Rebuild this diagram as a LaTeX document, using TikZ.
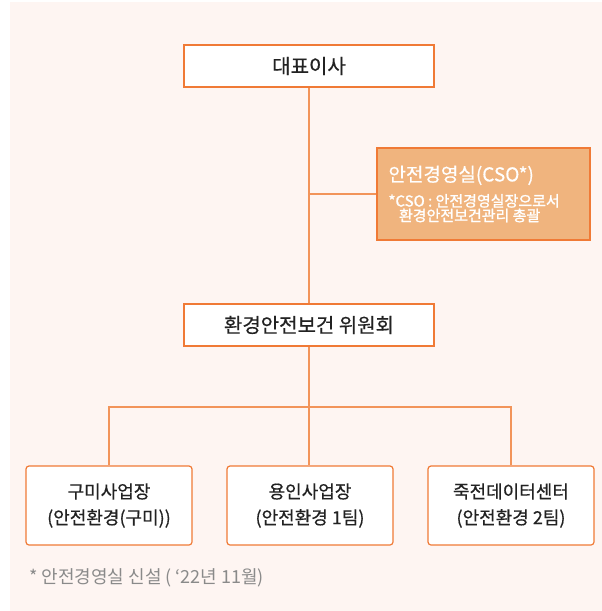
\documentclass[tikz,border=0pt]{standalone}
\usepackage{fontspec}
\setmainfont{Noto Sans CJK KR}[FakeBold=0.5]
\newfontfamily\semibold{Noto Sans CJK KR}[FakeBold=1.5]
\newfontfamily\plainfont{Noto Sans CJK KR}
\definecolor{bg}{HTML}{FEF5F2}
\definecolor{edge}{HTML}{F07A36}
\definecolor{wire}{HTML}{F2945A}
\definecolor{csofill}{HTML}{F0B47E}
\definecolor{ink}{HTML}{222222}
\definecolor{note}{HTML}{8A8A8A}
\tikzset{
  topbox/.style={draw=edge, line width=1.4pt, fill=white, minimum width=250pt, minimum height=42pt, inner sep=0pt, text=ink, font=\fontsize{20}{24}\selectfont},
  unitbox/.style={draw=edge, line width=1.2pt, fill=white, rounded corners=3pt, minimum width=166pt, minimum height=79pt, inner sep=0pt, text=ink, align=center, font=\fontsize{18}{26}\selectfont},
  csobox/.style={draw=edge, line width=1.4pt, fill=csofill, minimum width=213pt, minimum height=92pt, text width=190pt, inner xsep=11.5pt, inner ysep=0pt, text=white, align=left},
  wireline/.style={draw=wire, line width=1.1pt},
}
\begin{document}
\begin{tikzpicture}[x=1pt,y=-1pt]
\useasboundingbox (0,0) rectangle (602,611);
\fill[bg] (10,2) rectangle (602,611);
\coordinate (bar) at (309,407);
\node[topbox] (ceo) at (309,66) {대표이사};
\node[topbox] (cmt) at (309,325) {환경안전보건 위원회};
\node[csobox] (cso) at (483.5,194) {{\fontsize{19}{22}\selectfont 안전경영실(CSO*)}\\[8pt]{\semibold\fontsize{15}{16}\selectfont *CSO : 안전경영실장으로서}\\{\semibold\fontsize{15}{16}\selectfont\hspace{0.7em}환경안전보건관리 총괄}};
\node[unitbox] (b1) at (109,505.5) {구미사업장\\(안전환경(구미))};
\node[unitbox] (b2) at (310,505.5) {용인사업장\\(안전환경 1팀)};
\node[unitbox] (b3) at (511,505.5) {죽전데이터센터\\(안전환경 2팀)};
\draw[wireline] (ceo.south) -- (cmt.north);
\draw[wireline] (ceo.south |- cso.west) -- (cso.west);
\draw[wireline] (cmt.south) -- (bar) -- (bar |- b2.north);
\draw[wireline] (b1.north) |- (bar) -| (b3.north);
\node[anchor=west, text=note, font=\plainfont\fontsize{18}{20}\selectfont, inner sep=0pt] (fn) at (29,578) {* 안전경영실 신설 ( ‘22년 11월)};
\end{tikzpicture}
\end{document}
